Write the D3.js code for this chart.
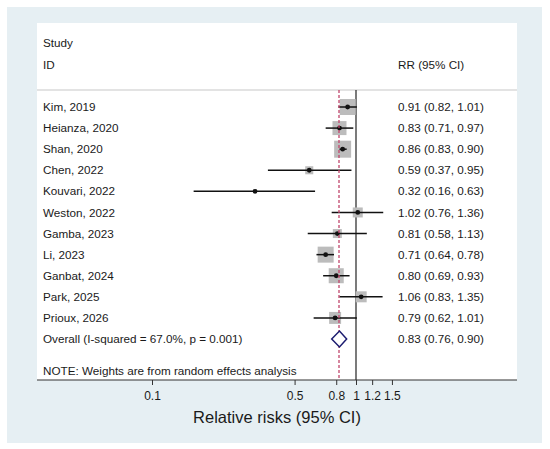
<!DOCTYPE html>
<html>
<head>
<meta charset="UTF-8">
<title>Forest plot</title>
<script src="https://d3js.org/d3.v7.min.js"></script>
<style>
  body { margin: 0; background: #fff; }
  text { font-family: "Liberation Sans", Arial, sans-serif; fill: #1a1a1a; }
</style>
</head>
<body>
<script>
// study data
var studies = ["Kim, 2019", "Heianza, 2020", "Shan, 2020", "Chen, 2022", "Kouvari, 2022",
  "Weston, 2022", "Gamba, 2023", "Li, 2023", "Ganbat, 2024", "Park, 2025", "Prioux, 2026"];
var rr    = [0.91, 0.83, 0.86, 0.59, 0.32, 1.02, 0.81, 0.71, 0.80, 1.06, 0.79];
var lower = [0.82, 0.71, 0.83, 0.37, 0.16, 0.76, 0.58, 0.64, 0.69, 0.83, 0.62];
var upper = [1.01, 0.97, 0.90, 0.95, 0.63, 1.36, 1.13, 0.78, 0.93, 1.35, 1.01];
// estimated weights (%) from box sizes
var weights = [14.6, 11.2, 16.5, 3.7, 0.9, 5.7, 4.6, 14.6, 12.9, 6.9, 8.2];

var overall = { label: "Overall  (I-squared = 67.0%, p = 0.001)", rr: 0.83, lower: 0.76, upper: 0.90 };
var tickValues = [0.1, 0.5, 0.8, 1, 1.2, 1.5];
var tickLabels = ["0.1", "0.5", "0.8", "1", "1.2", "1.5"];

var W = 550, H = 449;
var panel = { left: 37, top: 23, right: 517, bottom: 380 };
var headerLine = 90;

var svg = d3.select("body").append("svg")
  .attr("width", W).attr("height", H);

svg.append("rect").attr("x", 7).attr("y", 7).attr("width", 535).attr("height", 436)
  .attr("fill", "#e6eff3");
svg.append("rect").attr("x", panel.left).attr("y", panel.top)
  .attr("width", panel.right - panel.left).attr("height", panel.bottom - panel.top)
  .attr("fill", "#fff");

var x = d3.scaleLog().domain([0.1, 1]).range([152, 356]);

var rows = studies.concat(["Overall"]);
var y = d3.scalePoint().domain(rows).range([107, 339]);

var side = d3.scaleSqrt().domain([0, d3.max(weights)]).range([0, 17]);

var fmt = d3.format(".2f");
function ciText(a, b, c) { return fmt(a) + " (" + fmt(b) + ", " + fmt(c) + ")"; }

// header
svg.append("text").attr("x", 43).attr("y", 43).attr("dy", "0.35em")
  .style("font-size", "11.7px").text("Study");
svg.append("text").attr("x", 43).attr("y", 65).attr("dy", "0.35em")
  .style("font-size", "11.7px").text("ID");
svg.append("text").attr("x", 398).attr("y", 65).attr("dy", "0.35em")
  .style("font-size", "11.7px").text("RR (95% CI)");
svg.append("line").attr("x1", panel.left).attr("x2", panel.right)
  .attr("y1", headerLine).attr("y2", headerLine)
  .attr("stroke", "#c8c8c8").attr("stroke-width", 1.2);

// reference line at 1
svg.append("line").attr("x1", x(1)).attr("x2", x(1))
  .attr("y1", headerLine).attr("y2", panel.bottom)
  .attr("stroke", "#222").attr("stroke-width", 1.2);

// boxes
var g = svg.append("g");
studies.forEach(function (s, i) {
  var cy = y(s), sz = side(weights[i]);
  g.append("rect")
    .attr("x", x(rr[i]) - sz / 2).attr("y", cy - sz / 2)
    .attr("width", sz).attr("height", sz)
    .attr("fill", "#bcbcbc");
});

// overall effect line
svg.append("line").attr("x1", Math.round(x(overall.rr))).attr("x2", Math.round(x(overall.rr)))
  .attr("y1", headerLine).attr("y2", panel.bottom)
  .attr("stroke", "#c0456c").attr("stroke-width", 1.3)
  .attr("stroke-dasharray", "3,2");

studies.forEach(function (s, i) {
  var cy = y(s);
  g.append("line")
    .attr("x1", x(lower[i])).attr("x2", x(upper[i]))
    .attr("y1", cy).attr("y2", cy)
    .attr("stroke", "#111").attr("stroke-width", 1.5);
  g.append("circle").attr("cx", x(rr[i])).attr("cy", cy).attr("r", 2.4)
    .attr("fill", "#111");
  svg.append("text").attr("x", 43).attr("y", cy).attr("dy", "0.35em")
    .style("font-size", "11.7px").text(s);
  svg.append("text").attr("x", 398).attr("y", cy).attr("dy", "0.35em")
    .style("font-size", "11.7px").text(ciText(rr[i], lower[i], upper[i]));
});

// overall diamond
var oy = y("Overall");
svg.append("path")
  .attr("d", "M" + x(overall.lower) + "," + oy + "L" + x(overall.rr) + "," + (oy - 8) +
    "L" + x(overall.upper) + "," + oy + "L" + x(overall.rr) + "," + (oy + 8) + "Z")
  .attr("fill", "#fff").attr("stroke", "#1c1c70").attr("stroke-width", 1.5);
svg.append("text").attr("x", 43).attr("y", oy).attr("dy", "0.35em")
  .style("font-size", "11.7px").text(overall.label);
svg.append("text").attr("x", 398).attr("y", oy).attr("dy", "0.35em")
  .style("font-size", "11.7px").text(ciText(overall.rr, overall.lower, overall.upper));

svg.append("text").attr("x", 43).attr("y", 371).attr("dy", "0.35em")
  .style("font-size", "11.7px").text("NOTE: Weights are from random effects analysis");

// axis
var xAxis = d3.axisBottom(x).tickValues(tickValues)
  .tickFormat(function (d, i) { return tickLabels[i]; })
  .tickSize(5).tickPadding(6);
var ax = svg.append("g").attr("transform", "translate(0," + panel.bottom + ")").call(xAxis);
ax.select(".domain").remove();
ax.selectAll("line").attr("stroke", "#333");
ax.selectAll("text").style("font-size", "12px").style("font-family", "Liberation Sans, Arial, sans-serif")
  .attr("fill", "#1a1a1a");
svg.append("line").attr("x1", panel.left).attr("x2", panel.right)
  .attr("y1", panel.bottom).attr("y2", panel.bottom)
  .attr("stroke", "#333").attr("stroke-width", 1.2);

svg.append("text").attr("x", (panel.left + panel.right) / 2).attr("y", 417)
  .attr("dy", "0.35em").attr("text-anchor", "middle")
  .style("font-size", "16.5px").text("Relative risks (95% CI)");
</script>
</body>
</html>
